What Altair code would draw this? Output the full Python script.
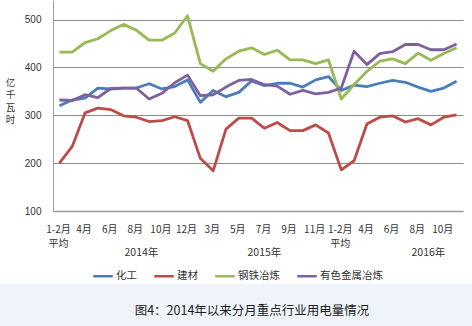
import altair as alt
import pandas as pd

# ---- data ----
series_names = ["化工", "建材", "钢铁冶炼", "有色金属冶炼"]
series_colors = ["#4A7EBB", "#BE4B48", "#98B954", "#7D60A0"]

months = (["2014-1-2月"] + [f"2014-{m}月" for m in range(3, 13)]
          + ["2015-1-2月"] + [f"2015-{m}月" for m in range(3, 13)]
          + ["2016-1-2月"] + [f"2016-{m}月" for m in range(3, 12)])

chem = [320, 332, 336, 357, 355, 357, 357, 366, 355, 360, 374,
        327, 352, 339, 348, 372, 362, 367, 367, 359, 374, 381,
        352, 363, 360, 367, 373, 369, 359, 350, 357, 371]
build = [200, 235, 305, 315, 312, 299, 296, 287, 289, 297, 289,
         210, 184, 271, 294, 294, 273, 285, 268, 268, 280, 263,
         186, 205, 282, 296, 299, 286, 293, 280, 296, 301]
steel = [432, 432, 452, 460, 477, 490, 478, 457, 457, 472, 508,
         408, 392, 418, 434, 441, 427, 436, 416, 416, 408, 416,
         334, 364, 392, 413, 418, 408, 430, 415, 429, 441]
nonferrous = [332, 331, 343, 337, 356, 357, 357, 334, 346, 368, 384,
              341, 343, 359, 373, 375, 364, 361, 344, 352, 345, 348,
              357, 434, 406, 429, 433, 448, 448, 437, 437, 449]

tick_idx = [0, 2, 4, 6, 8, 10, 12, 14, 16, 18, 20, 22, 24, 26, 28, 30]
tick_text = ["1-2月\n平均", "4月", "6月", "8月", "10月", "12月",
             "3月", "5月", "7月", "9月", "11月",
             "1-2月\n平均", "4月", "6月", "8月", "10月"]

year_pos = [6.4, 16.0, 28.8]
year_text = ["2014年", "2015年", "2016年"]

y_ticks = [100, 200, 300, 400, 500]
caption = "图4：2014年以来分月重点行业用电量情况"

# ---- build tables ----
rows = []
for name, vals in zip(series_names, [chem, build, steel, nonferrous]):
    for i, (m, v) in enumerate(zip(months, vals)):
        rows.append({"idx": i, "month": m, "series": name, "value": v,
                     "order": series_names.index(name)})
df = pd.DataFrame(rows)
ticks_df = pd.DataFrame({"idx": tick_idx, "label": tick_text})
years_df = pd.DataFrame({"idx": year_pos, "label": year_text})

W, H = 410, 211
CJK = "Noto Sans CJK SC"

xscale = alt.Scale(domain=[-0.5, len(months) - 0.5], nice=False, zero=False)
yscale = alt.Scale(domain=[100, 541], nice=False, zero=False)

band = alt.Chart(pd.DataFrame({"a": [0]})).mark_rect(color="#EEF4FA").encode(
    x=alt.value(-53), x2=alt.value(W + 9), y=alt.value(284), y2=alt.value(H + 120)
)

lines = alt.Chart(df).mark_line(strokeWidth=2.8, strokeJoin="round").encode(
    x=alt.X("idx:Q", scale=xscale,
            axis=alt.Axis(labels=False, ticks=False, grid=False, title=None,
                          domainColor="#9a9a9a", domainWidth=1.5)),
    y=alt.Y("value:Q", scale=yscale,
            axis=alt.Axis(values=y_ticks, grid=True, gridColor="#8c8c8c", gridWidth=1,
                          ticks=False, domainColor="#a0a0a0", domainWidth=1,
                          labelFont="Liberation Sans", labelFontSize=10,
                          labelColor="#333333", labelPadding=12,
                          title=["亿", "千", "瓦", "时"], titleAngle=0,
                          titleX=-43, titleY=77, titleAlign="center",
                          titleBaseline="top", titleLineHeight=12.5,
                          titleFont=CJK, titleFontSize=9.5,
                          titleFontWeight="normal", titleColor="#333333")),
    color=alt.Color("series:N",
                    scale=alt.Scale(domain=series_names, range=series_colors),
                    legend=alt.Legend(title=None, orient="none", direction="horizontal",
                                      legendX=39, legendY=265,
                                      symbolType="stroke", symbolSize=380,
                                      symbolStrokeWidth=2.5, labelOffset=2,
                                      columnPadding=12,
                                      labelFont=CJK, labelFontSize=10.5,
                                      labelColor="#333333")),
    order=alt.Order("order:Q"),
    detail="series:N",
)

xlabels = alt.Chart(ticks_df).mark_text(
    font=CJK, fontSize=10, color="#333333", baseline="top",
    lineBreak="\n", lineHeight=14, dx=-1
).encode(
    x=alt.X("idx:Q", scale=xscale), y=alt.value(H + 14), text="label:N"
)

ylabels = alt.Chart(years_df).mark_text(
    font=CJK, fontSize=10.5, color="#333333", baseline="middle"
).encode(
    x=alt.X("idx:Q", scale=xscale), y=alt.value(H + 42), text="label:N"
)

cap = alt.Chart(pd.DataFrame({"t": [caption]})).mark_text(
    font=CJK, fontSize=12.5, color="#222222", baseline="middle"
).encode(
    x=alt.value(199), y=alt.value(311), text="t:N"
)

chart = alt.layer(band, lines, xlabels, ylabels, cap).properties(
    width=W, height=H,
    autosize=alt.AutoSizeParams(type="none"),
    padding={"left": 53, "top": 0, "right": 9, "bottom": 115},
    background="white",
).configure_view(stroke=None)

chart.save("out.html", embed_options={"renderer": "svg", "actions": False})
